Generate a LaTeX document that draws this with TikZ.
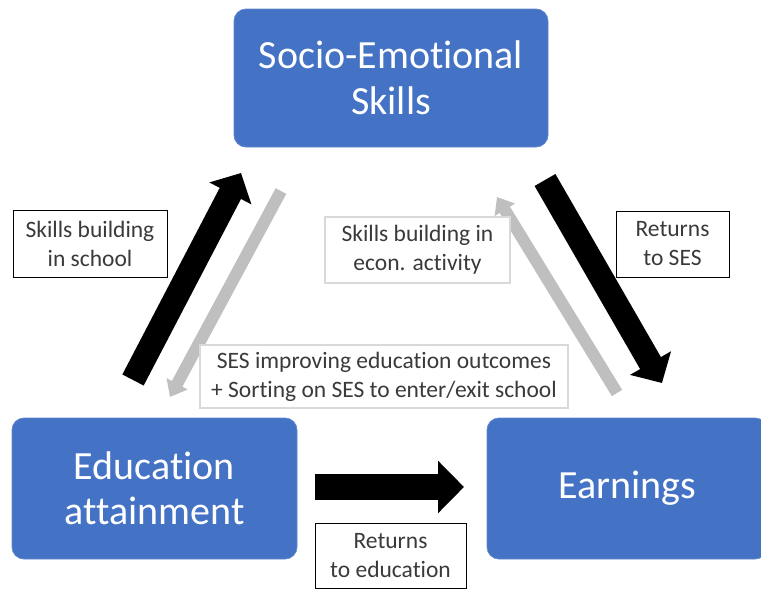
\documentclass[tikz,border=0pt]{standalone}
\usepackage{fontspec}
\setmainfont[RawFeature=-liga]{Carlito}
\usetikzlibrary{arrows.meta}
\definecolor{boxblue}{HTML}{4472C4}
\definecolor{lightarrow}{HTML}{BFBFBF}
\definecolor{lightframe}{HTML}{D9D9D9}
\definecolor{labeltext}{HTML}{3A3A3A}
\tikzset{
  factor/.style={fill=boxblue, draw=boxblue!85!white, line width=0.8pt, rounded corners=12pt,
    text=white, align=center, font=\fontsize{40}{45.5}\selectfont, inner sep=0pt},
  tag/.style={fill=white, draw=black, line width=1pt, text=labeltext, align=center,
    font=\fontsize{23.5}{29}\selectfont, inner sep=0pt},
  softtag/.style={tag, draw=lightframe, line width=1.5pt},
  strong/.style={line width=24pt, black, -{Triangle[length=23pt, width=46pt]}},
  weak/.style={line width=12pt, lightarrow, -{Triangle[length=15pt, width=23pt]}},
}
\begin{document}
\begin{tikzpicture}[x=1pt, y=-1pt]
\useasboundingbox (0,0) rectangle (761,592);
\clip (0,0) rectangle (761,592);

% the three factors
\node[factor, minimum width=314pt, minimum height=138pt] (ses) at (391,78) {Socio-Emotional\\Skills};
\node[factor, minimum width=285pt, minimum height=141pt] (edu) at (154.5,488.5) {Education\\attainment};
\node[factor, minimum width=280pt, minimum height=141pt] (earn) at (627,488.5) {Earnings};

% arrow end points
\coordinate (a1s) at (133,380);  \coordinate (a1e) at (241,173);
\coordinate (a2s) at (281,191);  \coordinate (a2e) at (170,397);
\coordinate (a3s) at (617,393);  \coordinate (a3e) at (497,197);
\coordinate (a4s) at (545,180);  \coordinate (a4e) at (662,383);
\coordinate (a5s) at (315,487);  \coordinate (a5e) at (464,487);

% connectors
\draw[weak] (a2s) -- (a2e);
\draw[weak] (a3s) -- (a3e);
\draw[strong] (a1s) -- (a1e);
\draw[strong] (a4s) -- (a4e);
\draw[line width=26pt, black, -{Triangle[length=26pt, width=51pt]}] (a5s) -- (a5e);

% connector labels
\node[tag, minimum width=154pt, minimum height=67pt] (school) at (90,243.5) {Skills building\\in school};
\node[softtag, minimum width=185pt, minimum height=66pt] (econ) at (417.5,250) {Skills building in\\econ. activity};
\node[tag, minimum width=113pt, minimum height=66pt] (retses) at (672.5,244) {Returns\\to SES};
\node[softtag, minimum width=368pt, minimum height=63pt] (sorting) at (384,376.5) {SES improving education outcomes\\+ Sorting on SES to enter/exit school};
\node[tag, minimum width=151pt, minimum height=65pt] (retedu) at (390.5,555.5) {Returns\\to education};
\end{tikzpicture}
\end{document}
